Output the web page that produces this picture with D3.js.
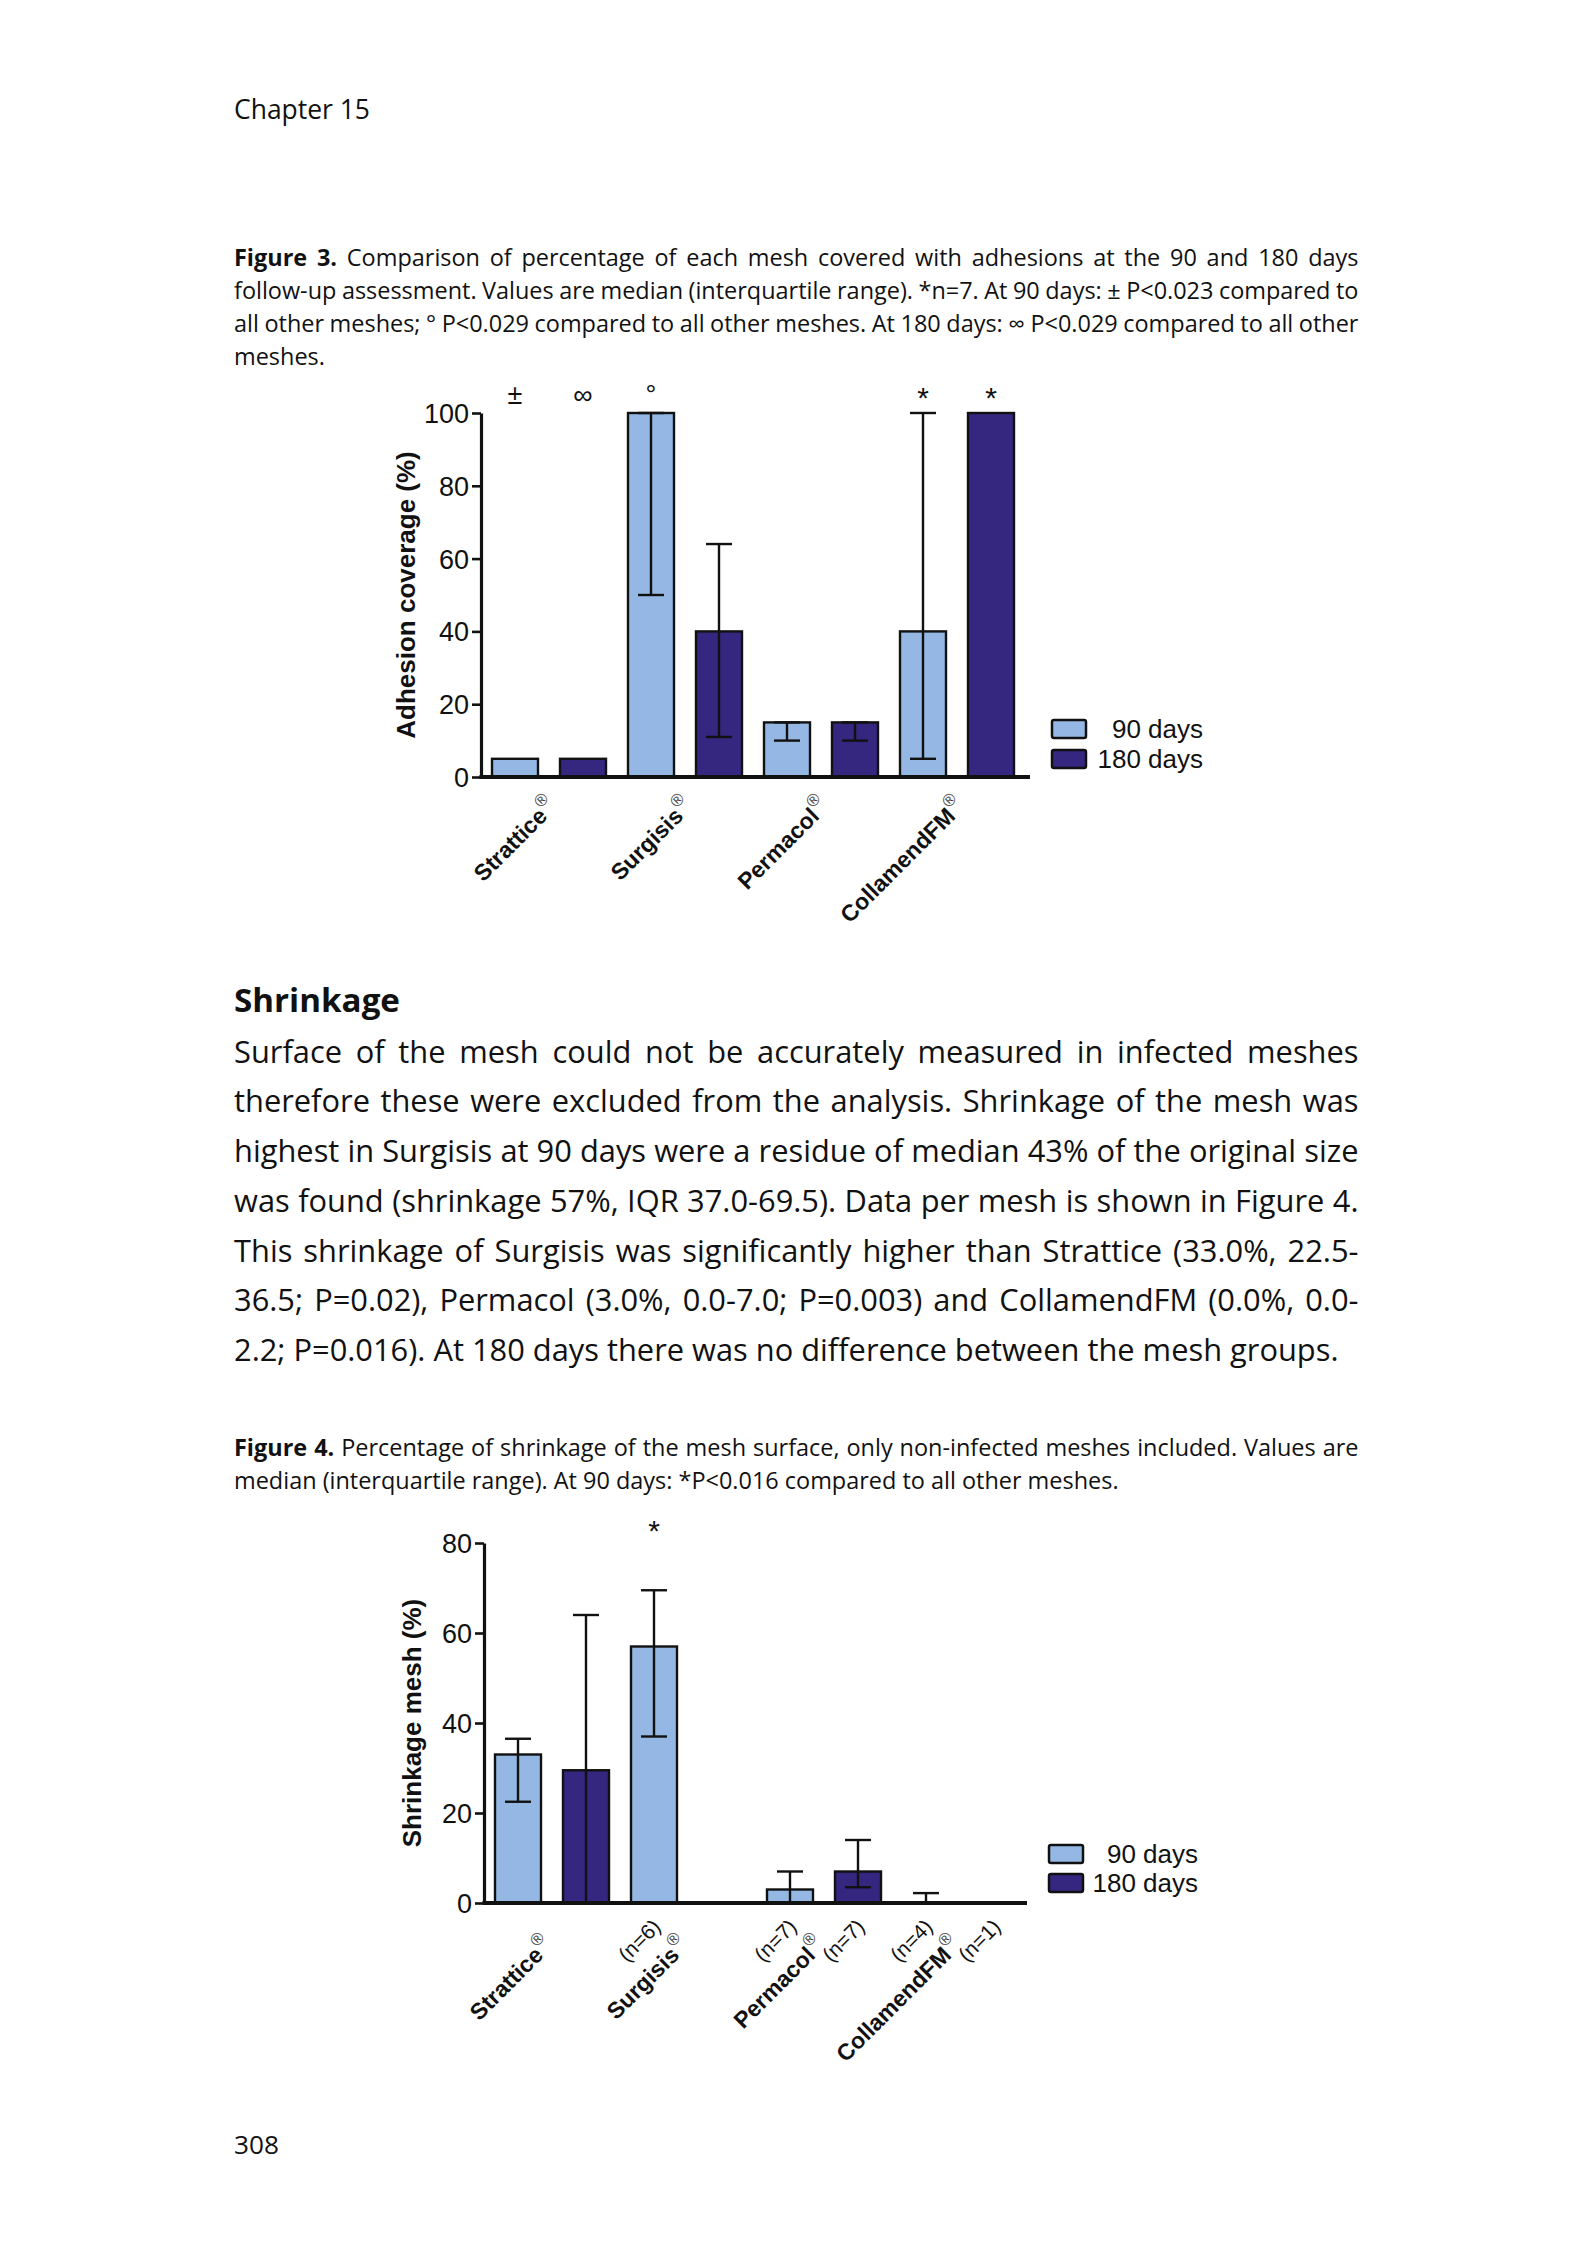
<!DOCTYPE html>
<html><head><meta charset="utf-8">
<script src="https://cdn.jsdelivr.net/npm/d3@7/dist/d3.min.js"></script>
<style>
html,body{margin:0;padding:0;background:#fff;}
svg{display:block;}
</style></head><body>
<svg id="page" width="1593" height="2250" xmlns="http://www.w3.org/2000/svg"></svg>
<script>
// ---------------- page text ----------------
const pageHeader = "Chapter 15";
const pageNumber = "308";
const fig3Caption = [
  "Figure 3. Comparison of percentage of each mesh covered with adhesions at the 90 and 180 days",
  "follow-up assessment. Values are median (interquartile range). *n=7. At 90 days: ± P<0.023 compared to",
  "all other meshes; ° P<0.029 compared to all other meshes. At 180 days: ∞ P<0.029 compared to all other",
  "meshes."
];
const bodyHeading = "Shrinkage";
const bodyLines = [
  "Surface of the mesh could not be accurately measured in infected meshes",
  "therefore these were excluded from the analysis. Shrinkage of the mesh was",
  "highest in Surgisis at 90 days were a residue of median 43% of the original size",
  "was found (shrinkage 57%, IQR 37.0-69.5). Data per mesh is shown in Figure 4.",
  "This shrinkage of Surgisis was significantly higher than Strattice (33.0%, 22.5-",
  "36.5; P=0.02), Permacol (3.0%, 0.0-7.0; P=0.003) and CollamendFM (0.0%, 0.0-",
  "2.2; P=0.016). At 180 days there was no difference between the mesh groups."
];
const fig4Caption = [
  "Figure 4. Percentage of shrinkage of the mesh surface, only non-infected meshes included. Values are",
  "median (interquartile range). At 90 days: *P<0.016 compared to all other meshes."
];

// ---------------- chart data ----------------
const meshes = ["Strattice", "Surgisis", "Permacol", "CollamendFM"];
const seriesNames = ["90 days", "180 days"];
const seriesColors = ["#94b8e3", "#352680"];

// Figure 3: adhesion coverage (%), median and IQR
const adhesion90   = [5, 100, 15, 40];
const adhesion90Lo = [5, 50, 10, 5];
const adhesion90Hi = [5, 100, 15, 100];
const adhesion180   = [5, 40, 15, 100];
const adhesion180Lo = [5, 11, 10, 100];
const adhesion180Hi = [5, 64, 15, 100];
const adhesionMarks90  = ["±", "°", "", "*"];
const adhesionMarks180 = ["∞", "", "", "*"];
const adhesionTicks = [0, 20, 40, 60, 80, 100];
const adhesionTitle = "Adhesion coverage (%)";

// Figure 4: shrinkage (%), median and IQR
const shrink90   = [33, 57, 3, 0];
const shrink90Lo = [22.5, 37, 0, 0];
const shrink90Hi = [36.5, 69.5, 7, 2.2];
const shrink180   = [29.5, 0, 7, 0];
const shrink180Lo = [0, 0, 3.5, 0];
const shrink180Hi = [64, 0, 14, 0];
const shrinkN90  = ["", "(n=6)", "(n=7)", "(n=4)"];
const shrinkN180 = ["", "", "(n=7)", "(n=1)"];
const shrinkMarks90  = ["", "*", "", ""];
const shrinkMarks180 = ["", "", "", ""];
const shrinkTicks = [0, 20, 40, 60, 80];
const shrinkTitle = "Shrinkage mesh (%)";

// ---------------- drawing ----------------
const svg = d3.select("#page");
const BODY_FONT = "'Open Sans', 'Noto Sans', sans-serif";
const CHART_FONT = "'Liberation Sans', Arial, sans-serif";
const colLeft = 234, colWidth = 1125;
const INK = "#111";

function textLines(lines, o) {
  const g = svg.append("g");
  const nodes = lines.map((line, i) => {
    const t = g.append("text")
      .attr("font-family", BODY_FONT).attr("font-size", o.size)
      .attr("font-weight", o.weight || 400).attr("fill", INK)
      .style("white-space", "pre");
    let rest = line;
    if (o.bold && i === 0) {
      t.append("tspan").attr("font-weight", 700).text(o.bold);
      rest = line.slice(o.bold.length);
    }
    t.append("tspan").text(rest);
    return t;
  });
  const nat = nodes.map(t => t.node().getComputedTextLength());
  const sx = o.sx || (o.calibWidth / nat[o.calibIndex]);
  nodes.forEach((t, i) => {
    const y = o.y0 + i * (o.lh || 0);
    let s = sx;
    if (o.justify && o.justify[i]) {
      const spaces = (lines[i].match(/ /g) || []).length;
      let ws = (colWidth / s - nat[i]) / spaces;
      const minWs = -0.1 * o.size;
      if (ws < minWs) { ws = minWs; s = colWidth / (nat[i] + ws * spaces); }
      t.style("word-spacing", ws + "px");
    }
    t.attr("transform", `translate(${colLeft},${y}) scale(${s},1)`);
  });
  return sx;
}

// header & page number
textLines([pageHeader], {size: 27, y0: 119, calibIndex: 0, calibWidth: 136});
textLines([pageNumber], {size: 26, y0: 2154, calibIndex: 0, calibWidth: 45});

// captions
const capSx = textLines(fig4Caption, {size: 23, y0: 1456, lh: 33, bold: "Figure 4.",
  calibIndex: 1, calibWidth: 885, justify: [true, false]});
textLines(fig3Caption, {size: 23, y0: 266, lh: 33, bold: "Figure 3.", sx: capSx,
  justify: [true, true, true, false]});

// heading and body
textLines([bodyHeading], {size: 33, weight: 700, y0: 1012, calibIndex: 0, calibWidth: 166});
textLines(bodyLines, {size: 31, y0: 1062.5, lh: 49.75, calibIndex: 6, calibWidth: 1105,
  justify: [true, true, true, true, true, true, false]});

function drawBarChart(c) {
  const g = svg.append("g").attr("font-family", CHART_FONT);
  const x0 = d3.scaleBand().domain(meshes).range([c.left, c.left + c.plotW]).paddingInner(0).paddingOuter(0);
  const x1 = d3.scaleBand().domain(seriesNames).range([0, x0.bandwidth()]).paddingInner(0.3235).paddingOuter(0.1618);
  const y = d3.scaleLinear().domain([0, c.max]).range([c.bottom, c.top]);
  const color = d3.scaleOrdinal().domain(seriesNames).range(seriesColors);

  const rows = [];
  meshes.forEach((m, i) => seriesNames.forEach((s, j) => rows.push({
    mesh: m, series: s, v: c.vals[j][i], lo: c.lo[j][i], hi: c.hi[j][i],
    mark: c.marks[j][i], n: c.ns ? c.ns[j][i] : ""
  })));
  const cx = d => x0(d.mesh) + x1(d.series) + x1.bandwidth() / 2;

  // bars
  g.append("g").selectAll("rect").data(rows.filter(d => d.v > 0)).join("rect")
    .attr("x", d => x0(d.mesh) + x1(d.series)).attr("width", x1.bandwidth())
    .attr("y", d => y(d.v)).attr("height", d => y(0) - y(d.v))
    .attr("fill", d => color(d.series)).attr("stroke", INK).attr("stroke-width", 2.4);

  // error bars (IQR)
  const eb = rows.filter(d => d.hi > d.lo);
  const eg = g.append("g").attr("stroke", INK).attr("stroke-width", 2.4);
  eg.selectAll("line.v").data(eb).join("line").attr("class", "v")
    .attr("x1", cx).attr("x2", cx).attr("y1", d => y(d.lo)).attr("y2", d => y(d.hi));
  const caps = eb.flatMap(d => [{d, val: d.lo}, {d, val: d.hi}]);
  eg.selectAll("line.c").data(caps).join("line").attr("class", "c")
    .attr("x1", e => cx(e.d) - 13).attr("x2", e => cx(e.d) + 13)
    .attr("y1", e => y(e.val)).attr("y2", e => y(e.val));

  // significance marks
  g.append("g").selectAll("text").data(rows.filter(d => d.mark)).join("text")
    .attr("x", cx).attr("y", d => c.markY + (d.mark === "*" ? 4 : 0)).attr("text-anchor", "middle")
    .attr("font-size", d => d.mark === "*" ? 30 : 27).attr("fill", INK).text(d => d.mark);

  // n labels
  g.append("g").selectAll("text").data(rows.filter(d => d.n)).join("text")
    .attr("text-anchor", "end").attr("font-size", 21).attr("fill", INK)
    .attr("transform", d => `translate(${cx(d) + 8},${c.bottom + 25}) rotate(-45)`)
    .text(d => d.n);

  // y axis
  const ya = g.append("g").attr("transform", `translate(${c.axisX},0)`)
    .call(d3.axisLeft(y).tickValues(c.ticks).tickSize(9).tickSizeOuter(0).tickPadding(3).tickFormat(d3.format("d")));
  ya.attr("font-family", CHART_FONT).attr("font-size", 27);
  ya.select(".domain").attr("stroke", INK).attr("stroke-width", 3.2);
  ya.selectAll(".tick line").attr("stroke", INK).attr("stroke-width", 2.6);
  ya.selectAll(".tick text").attr("fill", INK).attr("dy", "0.35em");

  // x axis (category labels)
  const xa = g.append("g").attr("transform", `translate(0,${c.bottom})`)
    .call(d3.axisBottom(x0).tickSize(0).tickPadding(0));
  xa.select(".domain").remove();
  xa.attr("font-family", CHART_FONT);
  xa.selectAll(".tick text")
    .attr("y", null).attr("dy", null).attr("text-anchor", "end")
    .attr("fill", INK).attr("font-size", 23).attr("font-weight", 700)
    .attr("transform", `translate(${c.labDx},${c.labDy}) rotate(-45)`)
    .text(null)
    .each(function (d) {
      const t = d3.select(this);
      t.append("tspan").text(d);
      t.append("tspan").attr("dy", -12).attr("dx", 1).attr("font-size", 17)
        .attr("font-weight", 400).attr("fill", "#444").text("®");
    });

  // baseline
  g.append("line").attr("x1", c.axisX - 1.6).attr("x2", c.xEnd)
    .attr("y1", y(0)).attr("y2", y(0)).attr("stroke", INK).attr("stroke-width", 4);

  // y title
  g.append("text").attr("transform", `translate(${c.titleX},${(c.top + c.bottom) / 2}) rotate(-90)`)
    .attr("text-anchor", "middle").attr("dy", "0.36em").attr("font-size", 26)
    .attr("font-weight", 700).attr("fill", INK).text(c.title);

  // legend
  const lg = g.append("g").attr("transform", `translate(${c.legX},${c.legY})`);
  lg.selectAll("rect").data(seriesNames).join("rect")
    .attr("x", 0).attr("y", (s, i) => i * c.legStep).attr("width", 34).attr("height", 18).attr("rx", 2)
    .attr("fill", s => color(s)).attr("stroke", INK).attr("stroke-width", 2.5);
  lg.selectAll("text").data(seriesNames).join("text")
    .attr("x", c.legTextRight).attr("y", (s, i) => i * c.legStep + 9).attr("dy", "0.36em")
    .attr("text-anchor", "end").attr("font-size", 26).attr("fill", INK).text(s => s);
}

drawBarChart({
  left: 481, plotW: 544, axisX: 481, xEnd: 1030, top: 413, bottom: 777, max: 100,
  ticks: adhesionTicks, title: adhesionTitle, titleX: 406, markY: 404,
  vals: [adhesion90, adhesion180], lo: [adhesion90Lo, adhesion180Lo], hi: [adhesion90Hi, adhesion180Hi],
  marks: [adhesionMarks90, adhesionMarks180], ns: null,
  labDx: 9, labDy: 31,
  legX: 1052, legY: 720, legStep: 30, legTextRight: 151
});

drawBarChart({
  left: 484, plotW: 544, axisX: 484, xEnd: 1027, top: 1543, bottom: 1903, max: 80,
  ticks: shrinkTicks, title: shrinkTitle, titleX: 412, markY: 1537,
  vals: [shrink90, shrink180], lo: [shrink90Lo, shrink180Lo], hi: [shrink90Hi, shrink180Hi],
  marks: [shrinkMarks90, shrinkMarks180], ns: [shrinkN90, shrinkN180],
  labDx: 2, labDy: 44,
  legX: 1049, legY: 1845, legStep: 29, legTextRight: 149
});
</script></body></html>
